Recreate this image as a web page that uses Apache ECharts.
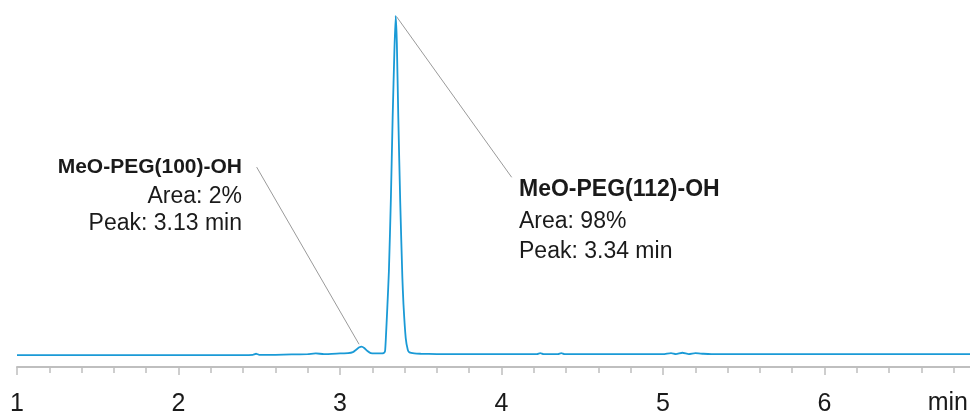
<!DOCTYPE html>
<html>
<head>
<meta charset="utf-8">
<script src="https://cdn.jsdelivr.net/npm/echarts@6/dist/echarts.min.js"></script>
<style>
  html, body { margin: 0; padding: 0; background: #fff; overflow: hidden; }
  #main { width: 986px; height: 417px; }
</style>
</head>
<body>
<div id="main"></div>
<script>
// retention time (min) and detector signal (arbitrary units, main peak ~100)
var times = [1.0, 1.5, 2.0, 2.4, 2.46, 2.48, 2.5, 2.6, 2.7, 2.8, 2.85, 2.9, 3.0, 3.05,
  3.08, 3.1, 3.12, 3.134, 3.15, 3.17, 3.19, 3.22, 3.25, 3.27, 3.279, 3.284, 3.293, 3.303,
  3.315, 3.326, 3.337, 3.345, 3.352, 3.361, 3.373, 3.386, 3.393, 3.407, 3.42, 3.43, 3.46,
  3.5, 3.6, 4.0, 4.22, 4.24, 4.26, 4.35, 4.37, 4.39, 5.0, 5.05, 5.08, 5.12, 5.16, 5.2,
  5.25, 5.3, 5.5, 6.0, 7.0];
var signal = [0, 0, 0, 0, 0.1, 0.4, 0.1, 0.1, 0.2, 0.3, 0.5, 0.3, 0.5, 0.6,
  0.9, 1.6, 2.3, 2.5, 2.1, 1.2, 0.6, 0.5, 0.5, 0.6, 1.2, 5, 14, 25,
  46, 70, 90, 100, 92, 70, 45, 23, 15, 5, 1.5, 0.8, 0.5,
  0.4, 0.3, 0.3, 0.3, 0.6, 0.3, 0.3, 0.6, 0.3, 0.3, 0.6, 0.3, 0.7, 0.3, 0.6,
  0.4, 0.3, 0.3, 0.3, 0.3];
var tickLabels = ['1', '2', '3', '4', '5', '6'];

var myChart = echarts.init(document.getElementById('main'));

var data = times.map(function (t, i) { return [t, signal[i]]; });

var option = {
  animation: false,
  grid: { left: 17, right: 0, top: 9, bottom: 48, containLabel: false },
  xAxis: {
    type: 'value',
    min: 1,
    max: 7,
    interval: 1,
    splitLine: { show: false },
    axisLine: { onZero: false, lineStyle: { color: '#bfbfbf', width: 2 } },
    axisTick: { length: 8, lineStyle: { color: '#bfbfbf', width: 1.5 } },
    minorTick: { show: true, splitNumber: 5, length: 6, lineStyle: { color: '#bfbfbf', width: 1.5 } },
    axisLabel: {
      showMaxLabel: false,
      margin: 25,
      fontSize: 25,
      color: '#1a1a1a',
      fontFamily: 'Liberation Sans',
      formatter: function (v) {
        var s = String(Math.round(v));
        return tickLabels.indexOf(s) >= 0 ? s : '';
      }
    }
  },
  yAxis: { type: 'value', min: -3.5, max: 102, show: false },
  series: [{
    type: 'line',
    data: data,
    showSymbol: false,
    smooth: 0.15,
    lineStyle: { color: '#1a9ad6', width: 1.8 },
    markLine: {
      silent: true,
      symbol: 'none',
      label: { show: false },
      lineStyle: { color: '#9a9a9a', width: 1, type: 'solid' },
      data: [
        [{ coord: [2.484, 55.4] }, { coord: [3.118, 3.2] }],
        [{ coord: [3.351, 99.7] }, { coord: [4.063, 52.4] }]
      ]
    }
  }],
  graphic: [
    { type: 'text', x: 968, y: 391, style: { text: 'min', font: '25px "Liberation Sans"', fill: '#1a1a1a', align: 'right', verticalAlign: 'top' } },
    { type: 'text', x: 242, y: 167, style: { text: 'MeO-PEG(100)-OH', font: 'bold 21px "Liberation Sans"', fill: '#1a1a1a', align: 'right', verticalAlign: 'middle' } },
    { type: 'text', x: 242, y: 197, style: { text: 'Area: 2%', font: '23px "Liberation Sans"', fill: '#1a1a1a', align: 'right', verticalAlign: 'middle' } },
    { type: 'text', x: 242, y: 224, style: { text: 'Peak: 3.13 min', font: '23px "Liberation Sans"', fill: '#1a1a1a', align: 'right', verticalAlign: 'middle' } },
    { type: 'text', x: 519, y: 190, style: { text: 'MeO-PEG(112)-OH', font: 'bold 23px "Liberation Sans"', fill: '#1a1a1a', align: 'left', verticalAlign: 'middle' } },
    { type: 'text', x: 519, y: 222, style: { text: 'Area: 98%', font: '23px "Liberation Sans"', fill: '#1a1a1a', align: 'left', verticalAlign: 'middle' } },
    { type: 'text', x: 519, y: 252, style: { text: 'Peak: 3.34 min', font: '23px "Liberation Sans"', fill: '#1a1a1a', align: 'left', verticalAlign: 'middle' } }
  ]
};

myChart.setOption(option);
</script>
</body>
</html>
